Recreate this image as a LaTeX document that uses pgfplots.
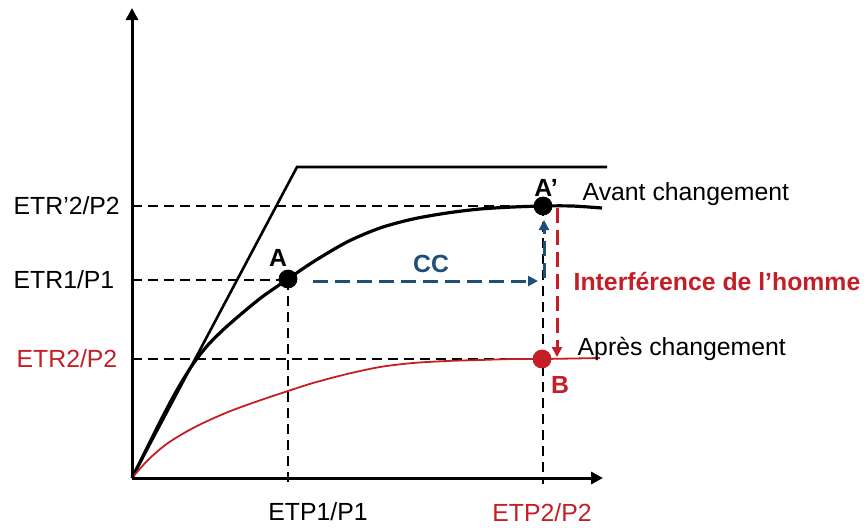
\documentclass[border=0pt]{standalone}
\usepackage{pgfplots}
\pgfplotsset{compat=1.18}
\usepackage{fontspec}
\setmainfont{Liberation Sans}
\usetikzlibrary{arrows.meta}
\definecolor{cred}{RGB}{196,30,38}
\definecolor{cblue}{RGB}{31,78,121}
\begin{document}
\fontsize{12.4}{14}\selectfont
\begin{tikzpicture}[lbl/.style={overlay}]
\begin{axis}[x=0.5pt, y=0.5pt, xmin=-132, xmax=734, ymin=-49, ymax=478,
  hide axis, clip=false]
  \path (axis cs:-132,-49) rectangle (axis cs:734,478);

  % reference dashed lines
  \addplot[black, line width=1pt, dash pattern=on 5pt off 3pt] coordinates {(0,272) (411,272)};
  \addplot[black, line width=1pt, dash pattern=on 5pt off 3pt] coordinates {(0,198) (156,198)};
  \addplot[black, line width=1pt, dash pattern=on 5pt off 3pt] coordinates {(0,119) (410,119)};
  \addplot[black, line width=1pt, dash pattern=on 5pt off 3pt] coordinates {(156,198) (156,-6)};
  \addplot[black, line width=1pt, dash pattern=on 5pt off 3pt] coordinates {(411,272) (411,-6)};

  % CC arrows
  \addplot[cblue, line width=1.5pt, dash pattern=on 7.5pt off 3.5pt,
    -{Triangle[width=5pt,length=5pt]}] coordinates {(181,197) (406,197)};
  \addplot[cblue, line width=1.5pt, dash pattern=on 7.5pt off 3.5pt,
    -{Triangle[width=5pt,length=5pt]}] coordinates {(412,200) (412,258)};

  % human interference
  \addplot[cred, line width=1.5pt, dash pattern=on 7.5pt off 3.5pt,
    -{Triangle[width=5pt,length=5pt]}] coordinates {(425,270) (425,121)};

  % energy / water limit
  \addplot[black, line width=1.3pt] coordinates {(0,0) (165,311) (475,311)};

  % curve before change
  \addplot[black, line width=1.6pt, smooth] coordinates {
    (0,0) (15,30) (30,60) (45,88) (61,114) (76,133) (92,149) (108,163) (130,181)
    (156,199) (181,216) (215,236) (248,250) (281,259) (315,265) (348,269)
    (381,271) (411,272) (440,272) (470,270)};

  % curve after change
  \addplot[cred, line width=0.9pt, smooth] coordinates {
    (0,0) (16,18) (36,35) (63,51) (96,66) (129,78) (156,87) (181,95) (215,104)
    (248,111) (281,115) (315,117) (348,118) (380,119) (410,119) (468,120)};

  % points
  \addplot[only marks, mark=*, mark size=4.5pt, black] coordinates {(156,199) (411,272)};
  \addplot[only marks, mark=*, mark size=4.5pt, cred] coordinates {(410,119)};

  % axes
  \draw[line width=1.5pt, -{Triangle[width=6pt,length=6pt]}] (axis cs:0,0) -- (axis cs:0,470);
  \draw[line width=1.5pt, -{Triangle[width=6pt,length=6pt]}] (axis cs:0,0) -- (axis cs:471,0);

  % labels
  \node[lbl, anchor=west] at (axis cs:-127,272) {ETR’2/P2};
  \node[lbl, anchor=west] at (axis cs:-127,198) {ETR1/P1};
  \node[lbl, anchor=west, text=cred] at (axis cs:-124,119) {ETR2/P2};
  \node[lbl] at (axis cs:186,-34) {ETP1/P1};
  \node[lbl, text=cred] at (axis cs:410,-35) {ETP2/P2};

  \node[lbl, anchor=base, font=\bfseries] at (axis cs:146,212) {A};
  \node[lbl, anchor=base, font=\bfseries] at (axis cs:414,282) {A’};
  \node[lbl, anchor=base, font=\bfseries, text=cred] at (axis cs:428,85) {B};
  \node[lbl, anchor=base, font=\bfseries, text=cblue] at (axis cs:299,206) {CC};

  \node[lbl, anchor=base west] at (axis cs:442,278) {Avant changement};
  \node[lbl, anchor=base west] at (axis cs:437,123) {Après changement};
  \node[lbl, anchor=base west, font=\bfseries, text=cred] at (axis cs:433,188) {Interférence de l’homme};
\end{axis}
\end{tikzpicture}
\end{document}
